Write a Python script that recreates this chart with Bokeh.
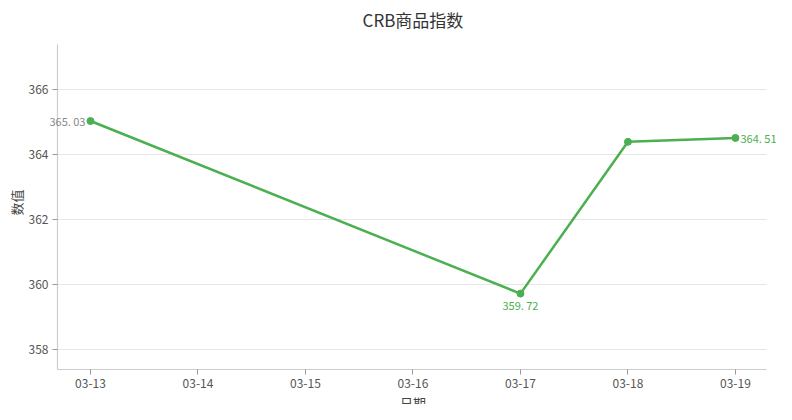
from bokeh.plotting import figure
from bokeh.models import ColumnDataSource, Range1d, FixedTicker, Label
from bokeh.embed import file_html
from bokeh.resources import INLINE

# data
dates = ["03-13", "03-14", "03-15", "03-16", "03-17", "03-18", "03-19"]
point_dates = ["03-13", "03-17", "03-18", "03-19"]
values = [365.03, 359.72, 364.39, 364.51]
y_ticks = [358, 360, 362, 364, 366]

FONT = "Noto Sans CJK SC"
GREEN = "#4caf50"
SPINE = "#cccccc"

# the frame fills the whole figure so that no text gets clipped;
# the visible axes box is drawn inside it
x_lo, x_hi = -0.307, 6.29
y_lo, y_hi = 357.385, 367.385

xs = [dates.index(d) for d in point_dates]
src = ColumnDataSource(dict(x=xs, y=values))

p = figure(frame_width=776, frame_height=404, output_backend="svg",
           toolbar_location=None,
           x_range=Range1d(-0.837, 6.382), y_range=Range1d(356.308, 368.738),
           min_border=0)

p.outline_line_color = None
p.xgrid.grid_line_color = None
p.ygrid.grid_line_color = None

# grid lines and spines limited to the axes box
p.segment(x0=[x_lo] * len(y_ticks), x1=[x_hi] * len(y_ticks), y0=y_ticks,
          y1=y_ticks, line_color="#e6e6e6", line_width=1)
p.segment(x0=[x_lo, x_lo], x1=[x_hi, x_lo], y0=[y_lo, y_lo], y1=[y_lo, y_hi],
          line_color=SPINE, line_width=1.2)

p.xaxis.ticker = FixedTicker(ticks=list(range(len(dates))))
p.xaxis.major_label_overrides = {i: d for i, d in enumerate(dates)}
p.xaxis.fixed_location = y_lo
p.yaxis.ticker = FixedTicker(ticks=y_ticks)
p.yaxis.fixed_location = x_lo
for ax in (p.xaxis, p.yaxis):
    ax.axis_line_color = None
    ax.major_tick_line_color = "#999999"
    ax.minor_tick_line_color = None
    ax.major_tick_in = 0
    ax.major_tick_out = 5
    ax.major_label_text_font = FONT
    ax.major_label_text_font_size = "12px"
    ax.major_label_text_color = "#555555"
    ax.axis_label_text_font = FONT
    ax.axis_label_text_font_size = "13px"
    ax.axis_label_text_font_style = "normal"
    ax.axis_label_text_color = "#444444"
p.yaxis.axis_label = "数值"
p.xaxis.major_label_standoff = 5
p.yaxis.major_label_standoff = 4
p.yaxis.axis_label_standoff = 0

p.line("x", "y", source=src, line_color=GREEN, line_width=2.5)
p.scatter("x", "y", source=src, size=7, color=GREEN)

mid = (len(dates) - 1) / 2

# title and x axis title, centred on the axes box
p.add_layout(Label(x=mid, y=y_hi, text="CRB商品指数", y_offset=25,
                   text_align="center", text_baseline="middle",
                   text_font=FONT, text_font_size="17px",
                   text_color="#333333"))
p.add_layout(Label(x=mid, y=y_lo, text="日期", y_offset=-33,
                   text_align="center", text_baseline="middle",
                   text_font=FONT, text_font_size="13px",
                   text_color="#444444"))

# value labels
label_style = dict(text_font=FONT, text_font_size="11px")
p.add_layout(Label(x=xs[0], y=values[0], text="365. 03", x_offset=-5,
                   text_align="right", text_baseline="middle",
                   text_color="#888888", **label_style))
p.add_layout(Label(x=xs[1], y=values[1], text="359. 72", y_offset=-3,
                   text_align="center", text_baseline="top",
                   text_color=GREEN, **label_style))
p.add_layout(Label(x=xs[3], y=values[3], text="364. 51", x_offset=5,
                   text_align="left", text_baseline="middle",
                   text_color=GREEN, **label_style))

open("out.html", "w").write(file_html(p, INLINE))
